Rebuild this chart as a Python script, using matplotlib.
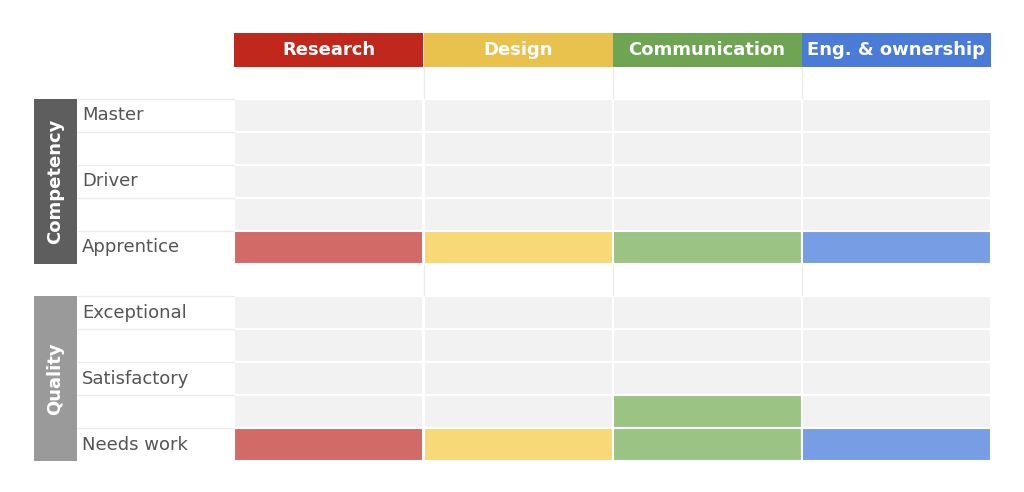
import matplotlib.pyplot as plt
from matplotlib.patches import Rectangle

categories = ["Research", "Design", "Communication", "Eng. & ownership"]
header_colors = ["#C0281C", "#E9C24D", "#6FA552", "#4A7BD7"]
fill_colors = ["#D26A67", "#F8D978", "#9BC384", "#779DE5"]

competency_levels = ["Master", "", "Driver", "", "Apprentice"]
quality_levels = ["Exceptional", "", "Satisfactory", "", "Needs work"]
competency_scores = [1, 1, 1, 1]
quality_scores = [1, 1, 2, 1]

fig = plt.figure(figsize=(10.24, 4.92), dpi=100)
ax = fig.add_axes([0, 0, 1, 1])
ax.set_xlim(0, 1024)
ax.set_ylim(492, 0)
ax.axis("off")

col_x = [234, 423.5, 612.5, 801.5]
col_w = 189
row_h = 33

# header
for i, (name, c) in enumerate(zip(categories, header_colors)):
    ax.add_patch(Rectangle((col_x[i], 33), col_w, 34, color=c, lw=0))
    ax.text(col_x[i] + col_w / 2, 50, name, color="white", ha="center", va="center",
            fontsize=13, fontweight="bold")
# thin separators in blank rows
for x in col_x[1:]:
    ax.plot([x, x], [68, 98], color="#EBEBEB", lw=1)
    ax.plot([x, x], [265, 295], color="#EBEBEB", lw=1)


def block(top, levels, scores, title, side_color):
    n = len(levels)
    ax.add_patch(Rectangle((34, top), 43, n * row_h, color=side_color, lw=0))
    ax.text(55.5, top + n * row_h / 2, title, rotation=90, color="white", ha="center",
            va="center", fontsize=13, fontweight="bold")
    for r, lab in enumerate(levels):
        y = top + r * row_h
        ax.plot([78, 234], [y, y], color="#EBEBEB", lw=1)
        if lab:
            ax.text(82, y + row_h / 2, lab, color="#555555", ha="left", va="center", fontsize=13)
        for i in range(len(categories)):
            filled = (n - r) <= scores[i]
            c = fill_colors[i] if filled else "#F2F2F2"
            ax.add_patch(Rectangle((col_x[i], y), col_w, row_h, facecolor=c,
                                   edgecolor="white", lw=1.5))


block(99, competency_levels, competency_scores, "Competency", "#5E5E5E")
block(296, quality_levels, quality_scores, "Quality", "#9A9A9A")

fig.savefig("out.png", dpi=100)
